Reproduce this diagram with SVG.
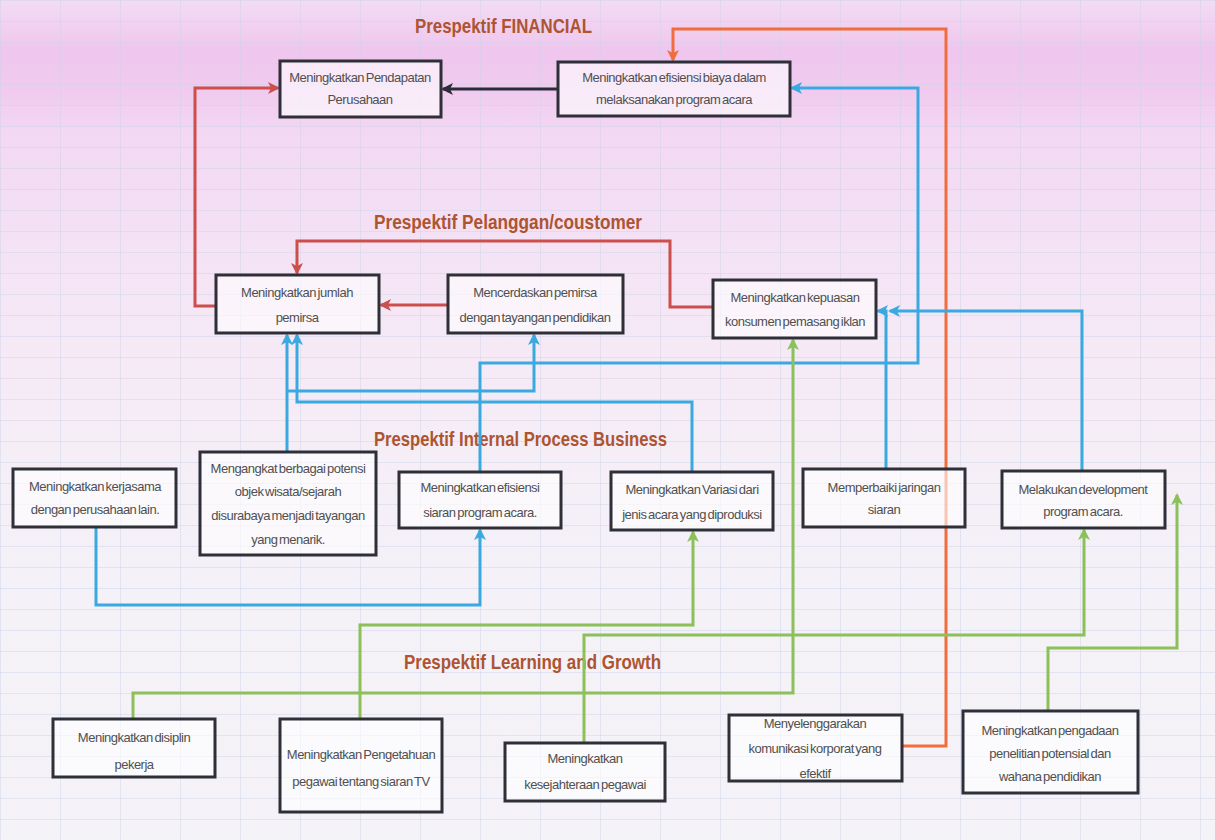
<svg xmlns="http://www.w3.org/2000/svg" width="1215" height="840" viewBox="0 0 1215 840">
<defs>
<linearGradient id="bg" x1="0" y1="0" x2="0" y2="1">
<stop offset="0" stop-color="#f3dcf3"/>
<stop offset="0.06" stop-color="#efc6ee"/>
<stop offset="0.11" stop-color="#f0cbef"/>
<stop offset="0.16" stop-color="#f3d8f3"/>
<stop offset="0.38" stop-color="#f5e8f6"/>
<stop offset="0.6" stop-color="#f5f0f7"/>
<stop offset="1" stop-color="#f4f3f8"/>
</linearGradient>
<pattern id="grid" width="60" height="21" patternUnits="userSpaceOnUse">
<path d="M0,0.5 H60 M0.5,0 V21" fill="none" stroke="#cdd2e6" stroke-width="1" opacity="0.45"/>
</pattern>
<marker id="aBlack" markerWidth="12" markerHeight="12" refX="10" refY="6" orient="auto" markerUnits="userSpaceOnUse"><path d="M0,0 L12,6 L0,12 L3,6 z" fill="#2b2b3a"/></marker>
<marker id="aRed" markerWidth="12" markerHeight="12" refX="10" refY="6" orient="auto" markerUnits="userSpaceOnUse"><path d="M0,0 L12,6 L0,12 L3,6 z" fill="#cc4f4c"/></marker>
<marker id="aBlue" markerWidth="12" markerHeight="12" refX="10" refY="6" orient="auto" markerUnits="userSpaceOnUse"><path d="M0,0 L12,6 L0,12 L3,6 z" fill="#3aa9df"/></marker>
<marker id="aGreen" markerWidth="12" markerHeight="12" refX="10" refY="6" orient="auto" markerUnits="userSpaceOnUse"><path d="M0,0 L12,6 L0,12 L3,6 z" fill="#8cc05a"/></marker>
<marker id="aOrange" markerWidth="12" markerHeight="12" refX="10" refY="6" orient="auto" markerUnits="userSpaceOnUse"><path d="M0,0 L12,6 L0,12 L3,6 z" fill="#f26d3d"/></marker>
</defs>
<style>
.box{fill:#ffffff;fill-opacity:0.6;stroke:#2f2f38;stroke-width:3}
.t{font-family:"Liberation Sans",Arial,sans-serif;font-size:13px;fill:#505050;text-anchor:middle;letter-spacing:-0.5px;word-spacing:-1.5px}
.title{font-family:"Liberation Sans",Arial,sans-serif;font-size:21px;font-weight:bold;fill:#ad5431}
.c{fill:none;stroke-width:3}
.black{stroke:#2b2b3a}
.red{stroke:#cc4f4c}
.blue{stroke:#3aa9df}
.green{stroke:#8cc05a}
.orange{stroke:#f26d3d}
</style>
<rect x="0" y="0" width="1215" height="840" fill="url(#bg)"/>
<rect x="0" y="0" width="1215" height="840" fill="url(#grid)"/>

<g id="titles">
<text class="title" x="415" y="33" textLength="177" lengthAdjust="spacingAndGlyphs">Prespektif FINANCIAL</text>
<text class="title" x="374" y="229" textLength="268" lengthAdjust="spacingAndGlyphs">Prespektif Pelanggan/coustomer</text>
<text class="title" x="374" y="446" textLength="293" lengthAdjust="spacingAndGlyphs">Prespektif Internal Process Business</text>
<text class="title" x="404" y="669" textLength="257" lengthAdjust="spacingAndGlyphs">Prespektif Learning and Growth</text>
</g>

<g id="connectors">
<path class="c black" d="M558,89 H443" marker-end="url(#aBlack)"/>
<path class="c red" d="M216,306 H195 V88 H278" marker-end="url(#aRed)"/>
<path class="c red" d="M448,305 H381" marker-end="url(#aRed)"/>
<path class="c red" d="M713,307 H670 V241 H297 V273" marker-end="url(#aRed)"/>
<path class="c orange" d="M902,746 H946 V29 H673 V60" marker-end="url(#aOrange)"/>
<path class="c blue" d="M480,472 V363 H918 V88 H792" marker-end="url(#aBlue)"/>
<path class="c blue" d="M96,527 V605 H480 V530" marker-end="url(#aBlue)"/>
<path class="c blue" d="M287,452 V335" marker-end="url(#aBlue)"/>
<path class="c blue" d="M287,391 H534 V335" marker-end="url(#aBlue)"/>
<path class="c blue" d="M692,472 V402 H297 V335" marker-end="url(#aBlue)"/>
<path class="c blue" d="M886,469 V311 H878" marker-end="url(#aBlue)"/>
<path class="c blue" d="M1082,471 V311 H890" marker-end="url(#aBlue)"/>
<path class="c green" d="M360,719 V625 H693 V532" marker-end="url(#aGreen)"/>
<path class="c green" d="M584,743 V635 H1084 V530" marker-end="url(#aGreen)"/>
<path class="c green" d="M133,719 V693 H793 V340" marker-end="url(#aGreen)"/>
<path class="c green" d="M1048,712 V648 H1177 V495" marker-end="url(#aGreen)"/>
</g>

<g id="n1"><rect class="box" x="280" y="61" width="161" height="56"/><text class="t" x="360" y="82">Meningkatkan Pendapatan</text><text class="t" x="360" y="104">Perusahaan</text></g>
<g id="n2"><rect class="box" x="558" y="62" width="232" height="54"/><text class="t" x="674" y="82">Meningkatkan efisiensi biaya dalam</text><text class="t" x="674" y="104">melaksanakan program acara</text></g>

<g id="n3"><rect class="box" x="216" y="275" width="163" height="58"/><text class="t" x="297" y="297">Meningkatkan jumlah</text><text class="t" x="297" y="322">pemirsa</text></g>
<g id="n4"><rect class="box" x="448" y="275" width="175" height="58"/><text class="t" x="535" y="297">Mencerdaskan pemirsa</text><text class="t" x="535" y="322">dengan tayangan pendidikan</text></g>
<g id="n5"><rect class="box" x="713" y="280" width="163" height="58"/><text class="t" x="795" y="302">Meningkatkan kepuasan</text><text class="t" x="795" y="326">konsumen pemasang iklan</text></g>

<g id="n6"><rect class="box" x="13" y="469" width="163" height="58"/><text class="t" x="95" y="491">Meningkatkan kerjasama</text><text class="t" x="95" y="514">dengan perusahaan lain.</text></g>
<g id="n7"><rect class="box" x="200" y="452" width="176" height="103"/><text class="t" x="288" y="473">Mengangkat berbagai potensi</text><text class="t" x="288" y="496">objek wisata/sejarah</text><text class="t" x="288" y="520">disurabaya menjadi tayangan</text><text class="t" x="288" y="544">yang menarik.</text></g>
<g id="n8"><rect class="box" x="399" y="472" width="162" height="56"/><text class="t" x="480" y="492">Meningkatkan efisiensi</text><text class="t" x="480" y="517">siaran program acara.</text></g>
<g id="n9"><rect class="box" x="611" y="472" width="162" height="58"/><text class="t" x="692" y="494">Meningkatkan Variasi dari</text><text class="t" x="692" y="519">jenis acara yang diproduksi</text></g>
<g id="n10"><rect class="box" x="803" y="469" width="162" height="58"/><text class="t" x="884" y="492">Memperbaiki jaringan</text><text class="t" x="884" y="514">siaran</text></g>
<g id="n11"><rect class="box" x="1002" y="471" width="163" height="57"/><text class="t" x="1083" y="494">Melakukan development</text><text class="t" x="1083" y="516">program acara.</text></g>

<g id="n12"><rect class="box" x="53" y="719" width="162" height="58"/><text class="t" x="134" y="742">Meningkatkan disiplin</text><text class="t" x="134" y="769">pekerja</text></g>
<g id="n13"><rect class="box" x="280" y="719" width="162" height="93"/><text class="t" x="361" y="759">Meningkatkan Pengetahuan</text><text class="t" x="361" y="786">pegawai tentang siaran TV</text></g>
<g id="n14"><rect class="box" x="505" y="743" width="160" height="58"/><text class="t" x="585" y="763">Meningkatkan</text><text class="t" x="585" y="789">kesejahteraan pegawai</text></g>
<g id="n15"><rect class="box" x="729" y="715" width="173" height="66"/><text class="t" x="815" y="728">Menyelenggarakan</text><text class="t" x="815" y="753">komunikasi korporat yang</text><text class="t" x="815" y="778">efektif</text></g>
<g id="n16"><rect class="box" x="963" y="711" width="175" height="82"/><text class="t" x="1050" y="735">Meningkatkan pengadaan</text><text class="t" x="1050" y="758">penelitian potensial dan</text><text class="t" x="1050" y="781">wahana pendidikan</text></g>
</svg>
